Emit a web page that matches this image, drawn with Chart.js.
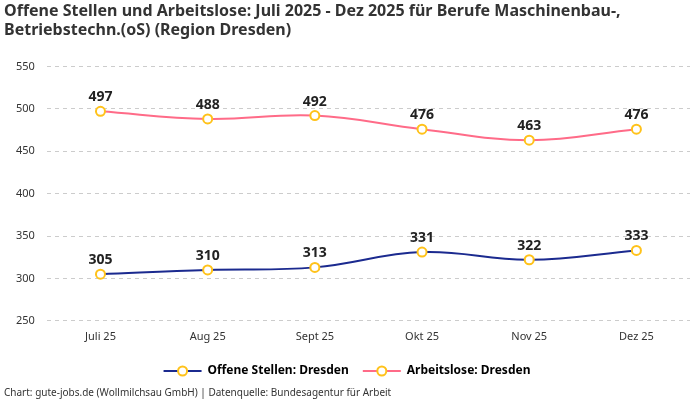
<!DOCTYPE html>
<html lang="de">
<head>
    <meta charset="UTF-8">
    <title>Offene Stellen und Arbeitslose Dresden</title>
    <style>
        body {
            margin: 0;
            padding: 0;
            background: #fff;
            font-family: "Noto Sans", Roboto, sans-serif;
        }

        #chart-box {
            width: 700px;
            height: 400px;
            position: relative;
        }
    </style>
</head>
<body>
    <div id="chart-box">
        <canvas id="chart"></canvas>
    </div>

    <script src="https://cdn.jsdelivr.net/npm/chart.js"></script>

    <script>
        const months = ["Juli 25", "Aug 25", "Sept 25", "Okt 25", "Nov 25", "Dez 25"];
        const offeneStellen = [305, 310, 313, 331, 322, 333];
        const arbeitslose = [497, 488, 492, 476, 463, 476];

        const fontName = '"Noto Sans", Roboto, sans-serif';

        // Werte ueber den Punkten
        const valueLabels = {
            id: 'valueLabels',
            afterDatasetsDraw(chart) {
                const ctx = chart.ctx;
                ctx.save();
                ctx.font = 'bold 14px ' + fontName;
                ctx.fillStyle = '#222';
                ctx.textAlign = 'center';
                ctx.textBaseline = 'bottom';
                chart.data.datasets.forEach((ds, i) => {
                    chart.getDatasetMeta(i).data.forEach((pt, j) => {
                        ctx.fillText(ds.data[j], pt.x, pt.y - 7);
                    });
                });
                ctx.restore();
            }
        };

        new Chart(document.getElementById('chart'), {
            type: 'line',
            data: {
                labels: months,
                datasets: [
                    {
                        label: 'Offene Stellen: Dresden',
                        data: offeneStellen,
                        borderColor: '#1b2a8f',
                        backgroundColor: '#fff',
                        borderWidth: 2,
                        pointBorderColor: '#ffc21a',
                        pointBackgroundColor: '#fff',
                        pointBorderWidth: 2,
                        pointRadius: 4.5,
                        tension: 0.4
                    },
                    {
                        label: 'Arbeitslose: Dresden',
                        data: arbeitslose,
                        borderColor: '#ff6b88',
                        backgroundColor: '#fff',
                        borderWidth: 2,
                        pointBorderColor: '#ffc21a',
                        pointBackgroundColor: '#fff',
                        pointBorderWidth: 2,
                        pointRadius: 4.5,
                        tension: 0.4
                    }
                ]
            },
            options: {
                responsive: true,
                maintainAspectRatio: false,
                animation: false,
                layout: {
                    padding: { left: 4, right: 10, top: 0, bottom: 1 }
                },
                plugins: {
                    title: {
                        display: true,
                        text: ['Offene Stellen und Arbeitslose: Juli 2025 - Dez 2025 für Berufe Maschinenbau-,',
                               'Betriebstechn.(oS) (Region Dresden)'],
                        align: 'start',
                        color: '#333',
                        font: { family: fontName, size: 16, weight: 'bold', lineHeight: 1.2 },
                        padding: { top: 2, bottom: 26 }
                    },
                    subtitle: {
                        display: true,
                        position: 'bottom',
                        text: 'Chart: gute-jobs.de (Wollmilchsau GmbH) | Datenquelle: Bundesagentur für Arbeit',
                        align: 'start',
                        color: '#333',
                        font: { family: fontName, size: 10 },
                        padding: { top: 0, bottom: 0 }
                    },
                    legend: {
                        position: 'bottom',
                        labels: {
                            boxWidth: 38,
                            boxHeight: 2,
                            color: '#333',
                            font: { family: fontName, size: 12, weight: 'bold' },
                            padding: 14,
                            generateLabels(chart) {
                                return chart.data.datasets.map((ds, i) => ({
                                    text: ds.label,
                                    fillStyle: ds.borderColor,
                                    strokeStyle: ds.borderColor,
                                    lineWidth: 0,
                                    datasetIndex: i
                                }));
                            }
                        }
                    },
                    tooltip: { enabled: false }
                },
                scales: {
                    x: {
                        offset: true,
                        grid: { display: false },
                        border: { display: false },
                        ticks: { color: '#333', font: { family: fontName, size: 11 }, padding: 1 },
                        afterFit(scale) { scale.height += 7; }
                    },
                    y: {
                        min: 250,
                        max: 550,
                        ticks: { stepSize: 50, color: '#333', font: { family: fontName, size: 11 }, padding: 12 },
                        border: { display: false, dash: [4, 4] },
                        grid: { color: '#cccccc', drawTicks: false }
                    }
                }
            },
            plugins: [valueLabels, {
                // gelber Kreis in der Legendenlinie
                id: 'legendDots',
                afterDraw(chart) {
                    const lg = chart.legend;
                    if (!lg || !lg.legendHitBoxes) return;
                    const ctx = chart.ctx;
                    ctx.save();
                    lg.legendHitBoxes.forEach(box => {
                        const cx = box.left + 19;
                        const cy = box.top + box.height / 2;
                        ctx.beginPath();
                        ctx.arc(cx, cy, 4.5, 0, Math.PI * 2);
                        ctx.fillStyle = '#fff';
                        ctx.fill();
                        ctx.lineWidth = 2;
                        ctx.strokeStyle = '#ffc21a';
                        ctx.stroke();
                    });
                    ctx.restore();
                }
            }]
        });
    </script>
</body>
</html>
